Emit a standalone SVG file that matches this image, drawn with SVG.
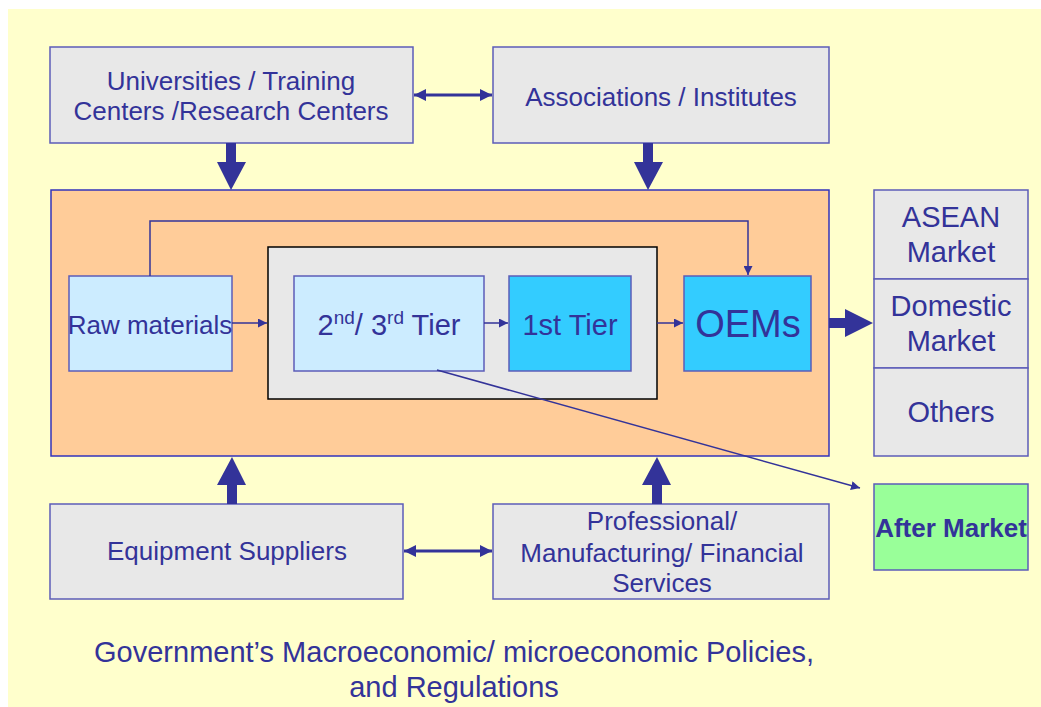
<svg xmlns="http://www.w3.org/2000/svg" width="1041" height="707" viewBox="0 0 1041 707">
<defs>
<style>
text{font-family:"Liberation Sans",Arial,sans-serif;fill:#333399;text-anchor:middle;font-size:26px}
text.big{font-size:29px}
text.oem{font-size:38px}
text.bold{font-weight:bold;font-size:26px}
.gray{fill:#E8E8E8;stroke:#5C5CB8;stroke-width:1.5}
.light{fill:#CCECFF;stroke:#5C5CB8;stroke-width:1.5}
.cyan{fill:#33CCFF;stroke:#5C5CB8;stroke-width:1.5}
.thin{stroke:#333399;stroke-width:1.5;fill:none}
.dbl{stroke:#333399;stroke-width:3;fill:none}
.fat{fill:#333399}
</style>
<marker id="ah" viewBox="0 0 10 10" refX="10" refY="5" markerWidth="9" markerHeight="9" markerUnits="userSpaceOnUse" orient="auto-start-reverse">
<path d="M0,0 L10,5 L0,10 z" fill="#333399"/>
</marker>
<marker id="ah2" viewBox="0 0 10 10" refX="10" refY="5" markerWidth="12" markerHeight="12" markerUnits="userSpaceOnUse" orient="auto-start-reverse">
<path d="M0,0 L10,5 L0,10 z" fill="#333399"/>
</marker>
</defs>
<rect x="0" y="0" width="1041" height="707" fill="#FFFFFF"/>
<rect x="8" y="9" width="1033" height="698" fill="#FFFFCC"/>

<g id="universities">
<rect class="gray" x="50" y="47" width="363" height="96"/>
<text x="231" y="90">Universities / Training</text>
<text x="231" y="120">Centers /Research Centers</text>
</g>
<g id="associations">
<rect class="gray" x="493" y="47" width="336" height="96"/>
<text x="661" y="106">Associations / Institutes</text>
</g>
<g id="cluster">
<rect x="51" y="190" width="778" height="266" fill="#FFCC99" stroke="#3333BB" stroke-width="1.5"/>
</g>
<g id="raw-materials">
<rect class="light" x="69" y="276" width="163" height="95"/>
<text x="150" y="334">Raw materials</text>
</g>
<g id="tier-group">
<rect x="268" y="247" width="389" height="152" fill="#E8E8E8" stroke="#000000" stroke-width="1.5"/>
</g>
<g id="tier23">
<rect class="light" x="294" y="276" width="190" height="95"/>
<text class="big" x="389" y="335">2<tspan font-size="19" dy="-11">nd</tspan><tspan dy="11">/ 3</tspan><tspan font-size="19" dy="-11">rd</tspan><tspan dy="11"> Tier</tspan></text>
</g>
<g id="tier1">
<rect class="cyan" x="509" y="276" width="122" height="95"/>
<text class="big" x="570" y="335">1st Tier</text>
</g>
<g id="oems">
<rect class="cyan" x="684" y="276" width="127" height="95"/>
<text class="oem" x="748" y="337">OEMs</text>
</g>
<g id="asean">
<rect class="gray" x="874" y="190" width="154" height="89"/>
<text class="big" x="951" y="227">ASEAN</text>
<text class="big" x="951" y="262">Market</text>
</g>
<g id="domestic">
<rect class="gray" x="874" y="279" width="154" height="89"/>
<text class="big" x="951" y="316">Domestic</text>
<text class="big" x="951" y="351">Market</text>
</g>
<g id="others">
<rect class="gray" x="874" y="368" width="154" height="88"/>
<text class="big" x="951" y="422">Others</text>
</g>
<g id="after-market">
<rect x="874" y="484" width="154" height="86" fill="#99FF99" stroke="#5C5CB8" stroke-width="1.5"/>
<text class="bold" x="951" y="537">After Market</text>
</g>
<g id="equipment">
<rect class="gray" x="50" y="504" width="353" height="95"/>
<text x="227" y="560">Equipment Suppliers</text>
</g>
<g id="services">
<rect class="gray" x="493" y="504" width="336" height="95"/>
<text x="662" y="530">Professional/</text>
<text x="662" y="562">Manufacturing/ Financial</text>
<text x="662" y="592">Services</text>
</g>
<g id="government">
<text class="big" x="454" y="662">Government’s Macroeconomic/ microeconomic Policies,</text>
<text class="big" x="454" y="697">and Regulations</text>
</g>

<g id="connectors">
<line class="dbl" x1="414" y1="95" x2="492" y2="95" marker-start="url(#ah2)" marker-end="url(#ah2)"/>
<line class="dbl" x1="404" y1="551" x2="492" y2="551" marker-start="url(#ah2)" marker-end="url(#ah2)"/>
<path class="fat" d="M226,143 H236 V162 H246 L231,190 L217,162 H226 Z"/>
<path class="fat" d="M643,143 H653 V162 H663 L648,190 L634,162 H643 Z"/>
<path class="fat" d="M227,504 H237 V485 H246 L232,457 L217,485 H227 Z"/>
<path class="fat" d="M652,504 H662 V485 H671 L657,457 L642,485 H652 Z"/>
<path class="fat" d="M829,318 H845 V309 L873,323 L845,337 V328 H829 Z"/>
<line class="thin" x1="232" y1="323" x2="267" y2="323" marker-end="url(#ah)"/>
<line class="thin" x1="484" y1="323" x2="508" y2="323" marker-end="url(#ah)"/>
<line class="thin" x1="657" y1="323" x2="683" y2="323" marker-end="url(#ah)"/>
<polyline class="thin" points="150,276 150,221 748,221 748,275" marker-end="url(#ah)"/>
<line class="thin" x1="437" y1="370" x2="860" y2="488" marker-end="url(#ah)"/>
</g>
</svg>
